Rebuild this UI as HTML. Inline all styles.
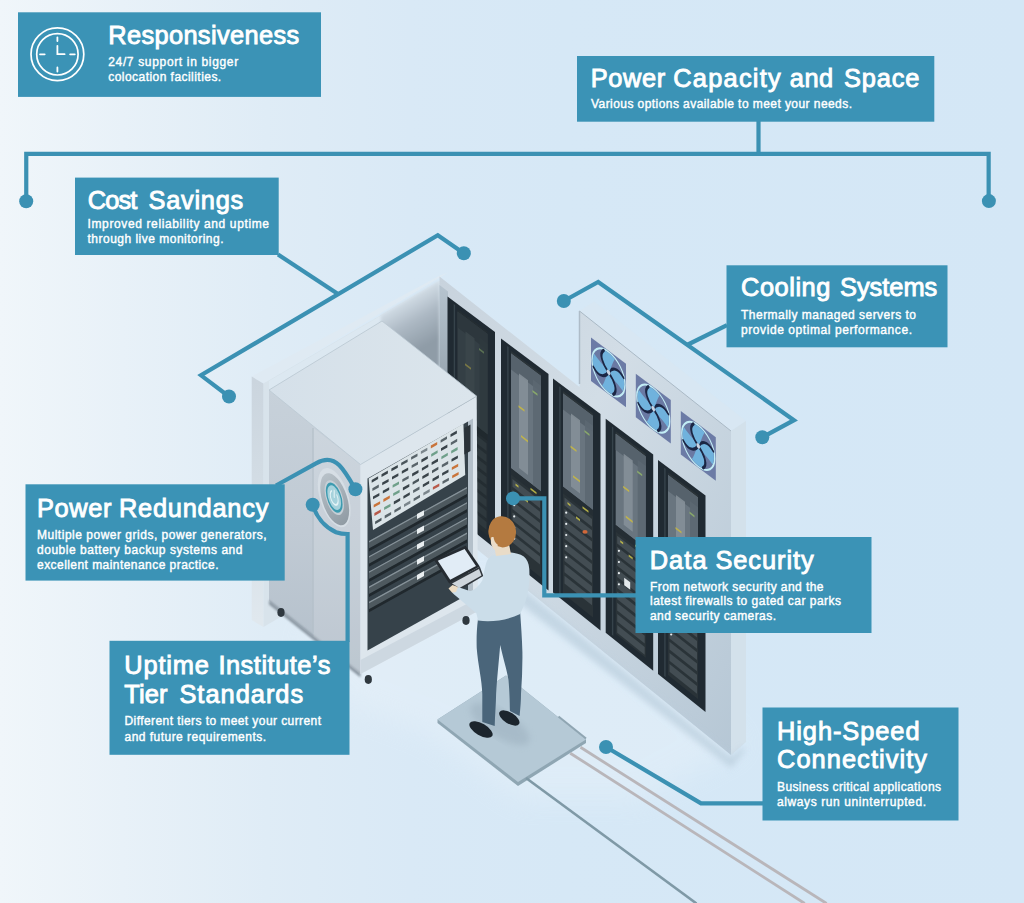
<!DOCTYPE html>
<html lang="en"><head><meta charset="utf-8"><title>Colocation data centre benefits</title>
<style>
html,body{margin:0;padding:0;background:#e3eef6;}
#stage{position:relative;width:1024px;height:903px;overflow:hidden;
background:linear-gradient(90deg,#f0f6fa 0%,#e8f1f8 12%,#dfecf6 26%,#d9e9f6 40%,#d6e8f6 55%,#d4e7f6 100%);}
svg{position:absolute;left:0;top:0;}
text{font-family:"Liberation Sans",sans-serif;fill:#fff;}
.t{font-size:25.4px;stroke:#fff;stroke-width:0.9px;}
.s{font-size:12px;stroke:#fff;stroke-width:0.4px;}
</style></head><body><div id="stage">
<svg width="1024" height="903" viewBox="0 0 1024 903">
<defs>
<linearGradient id="gWallR" x1="0" y1="0" x2="1" y2="1">
<stop offset="0" stop-color="#c8d3dd"/><stop offset="0.4" stop-color="#d2dde6"/><stop offset="1" stop-color="#b6c7d5"/>
</linearGradient>
<linearGradient id="gShadowL" gradientUnits="userSpaceOnUse" x1="390" y1="348" x2="433" y2="284">
<stop offset="0" stop-color="#8c99a4"/><stop offset="0.5" stop-color="#afbcc7"/><stop offset="1" stop-color="#cedae4"/>
</linearGradient>
<linearGradient id="gCabTop" x1="0" y1="0" x2="1" y2="0">
<stop offset="0" stop-color="#d5e0e9"/><stop offset="1" stop-color="#dbe5ec"/>
</linearGradient>
<linearGradient id="gCabLeft" x1="0" y1="0" x2="0" y2="1">
<stop offset="0" stop-color="#c7d1da"/><stop offset="0.5" stop-color="#c0cad4"/><stop offset="1" stop-color="#b3bfca"/>
</linearGradient>
<linearGradient id="gGlass" x1="0" y1="0" x2="0" y2="1">
<stop offset="0" stop-color="#3a4549"/><stop offset="0.5" stop-color="#566165"/><stop offset="1" stop-color="#2a3338"/>
</linearGradient>
<linearGradient id="gGlassD" x1="0" y1="0" x2="0" y2="1">
<stop offset="0" stop-color="#2c363a"/><stop offset="0.5" stop-color="#394347"/><stop offset="1" stop-color="#20282c"/>
</linearGradient>
<linearGradient id="gFloorSh" x1="0" y1="0" x2="0" y2="1">
<stop offset="0" stop-color="#b4c9d9"/><stop offset="1" stop-color="#dbe8f2" stop-opacity="0"/>
</linearGradient>
<filter id="blur3" x="-10%" y="-10%" width="120%" height="120%"><feGaussianBlur stdDeviation="3"/></filter>
<filter id="blur12" x="-20%" y="-20%" width="140%" height="140%"><feGaussianBlur stdDeviation="14"/></filter>
<linearGradient id="gStrip" gradientUnits="userSpaceOnUse" x1="0" y1="285" x2="0" y2="380"><stop offset="0" stop-color="#b6c4cf"/><stop offset="1" stop-color="#98a5b0"/></linearGradient>
<linearGradient id="gBtn" x1="0" y1="0" x2="1" y2="1"><stop offset="0" stop-color="#c0c9d0"/><stop offset="1" stop-color="#88939c"/></linearGradient>
<linearGradient id="gShadowR" gradientUnits="userSpaceOnUse" x1="412" y1="296" x2="437" y2="339"><stop offset="0" stop-color="#d2dde6"/><stop offset="0.45" stop-color="#adb9c4"/><stop offset="1" stop-color="#8f9ca7"/></linearGradient>
<filter id="blur2" x="-10%" y="-10%" width="120%" height="120%"><feGaussianBlur stdDeviation="1.6"/></filter>
<linearGradient id="gEnd" gradientUnits="userSpaceOnUse" x1="0" y1="380" x2="0" y2="620"><stop offset="0" stop-color="#cbd5de"/><stop offset="0.4" stop-color="#d2dce4"/><stop offset="1" stop-color="#e0e8ee"/></linearGradient>
<filter id="blur1" x="-10%" y="-10%" width="120%" height="120%"><feGaussianBlur stdDeviation="0.8"/></filter>
</defs>

<polygon points="300.0,640.0 420.0,560.0 520.0,560.0 745.0,745.0 640.0,800.0 520.0,800.0 430.0,735.0 350.0,705.0" fill="#f3f8fc" opacity="0.28" filter="url(#blur12)"/>
<polygon points="251.7,376.5 439.0,276.0 448.0,272.5 263.4,383.5" fill="#dfeaf3" />
<polygon points="263.4,383.5 439.5,281.0 439.5,525.0 263.4,627.0" fill="#d8e3eb" />
<polygon points="269.0,381.0 382.0,315.0 439.5,281.0 439.5,300.0 269.0,400.0" fill="#dce8f1" />
<polygon points="381.0,315.5 439.5,281.0 439.5,470.0 381.0,470.0" fill="url(#gShadowR)" filter="url(#blur2)"/>
<polygon points="251.7,376.5 263.4,383.5 263.4,627.0 251.7,620.0" fill="url(#gEnd)" />
<polygon points="439.5,276.5 579.5,387.0 579.5,311.0 731.0,431.0 731.0,755.0 439.5,519.0" fill="url(#gWallR)" />
<polygon points="579.5,311.0 731.0,431.0 746.0,421.0 594.0,301.5" fill="#d8e7f3" />
<path d="M579.5,311 L731,431" stroke="#aab9c5" stroke-width="1" fill="none"/>
<polygon points="731.0,431.0 746.0,421.0 746.0,742.0 731.0,755.0" fill="#d3e1eb" />
<polygon points="439.5,285.0 448.0,291.5 448.0,400.0 439.5,400.0" fill="url(#gStrip)" />
<path d="M579.5,311 V384" stroke="#aebcc8" stroke-width="1.5"/>
<polygon points="447.5,296.4 495.0,332.0 495.0,548.4 447.5,510.4" fill="#202a32" />
<polygon points="453.7,304.0 455.1,305.1 455.1,513.5 453.7,512.4" fill="#36434b" />
<polygon points="457.5,308.9 487.5,331.4 487.5,535.4 457.5,511.4" fill="#242d32" />
<polygon points="457.5,311.4 487.5,334.0 487.5,434.4 457.5,411.1" fill="#343f45" />
<polygon points="457.5,311.4 487.5,334.0 487.5,350.2 457.5,327.5" fill="#2d373d" />
<polygon points="465.5,331.4 474.5,338.2 474.5,417.9 465.5,410.9" fill="#3c474b" opacity="0.85"/>
<polygon points="479.5,337.6 487.5,343.7 487.5,434.4 479.5,428.2" fill="#2f3a3e" opacity="0.9"/>
<polygon points="457.5,411.1 487.5,434.4 487.5,440.9 457.5,417.6" fill="#20292e" />
<polygon points="459.0,422.0 486.5,443.3 486.5,451.1 459.0,429.7" fill="#2e383d" />
<polygon points="459.0,433.1 486.5,454.6 486.5,462.3 459.0,440.9" fill="#2e383d" />
<polygon points="459.0,444.3 486.5,465.8 486.5,473.6 459.0,452.0" fill="#2e383d" />
<polygon points="459.0,455.4 486.5,477.0 486.5,484.8 459.0,463.2" fill="#2e383d" />
<polygon points="459.0,466.6 486.5,488.3 486.5,496.0 459.0,474.3" fill="#2e383d" />
<polygon points="459.0,477.8 486.5,499.5 486.5,507.3 459.0,485.5" fill="#2e383d" />
<polygon points="459.0,488.9 486.5,510.7 486.5,518.5 459.0,496.6" fill="#2e383d" />
<polygon points="459.0,500.1 486.5,521.9 486.5,529.7 459.0,507.8" fill="#2e383d" />
<polygon points="479.0,348.0 484.0,351.8 484.0,353.8 479.0,350.0" fill="#8fb36a" opacity="0.45"/>
<polygon points="465.0,363.3 471.0,367.8 471.0,369.8 465.0,365.3" fill="#c9b840" opacity="0.45"/>
<polygon points="501.0,338.4 548.5,374.0 548.5,590.4 501.0,552.4" fill="#202a32" />
<polygon points="507.2,346.0 508.6,347.1 508.6,555.5 507.2,554.4" fill="#36434b" />
<polygon points="511.0,350.9 541.0,373.4 541.0,577.4 511.0,553.4" fill="#2a3338" />
<polygon points="511.0,353.4 541.0,376.0 541.0,491.5 511.0,468.2" fill="#69757f" />
<polygon points="511.0,353.4 541.0,376.0 541.0,392.2 511.0,369.5" fill="#56626c" />
<polygon points="519.0,373.4 528.0,380.2 528.0,474.9 519.0,467.9" fill="#87929a" opacity="0.85"/>
<polygon points="533.0,379.6 541.0,385.7 541.0,491.5 533.0,485.3" fill="#5c6872" opacity="0.9"/>
<polygon points="511.0,468.2 541.0,491.5 541.0,498.0 511.0,474.6" fill="#252e34" />
<polygon points="512.5,479.0 540.0,500.5 540.0,508.2 512.5,486.7" fill="#434d53" />
<polygon points="512.5,490.1 540.0,511.7 540.0,519.5 512.5,497.9" fill="#434d53" />
<circle cx="514.2" cy="494.1" r="1.1" fill="#e8eef0"/>
<polygon points="512.5,501.3 540.0,522.9 540.0,530.7 512.5,509.0" fill="#434d53" />
<circle cx="514.2" cy="505.2" r="1.1" fill="#e8eef0"/>
<polygon points="512.5,512.5 540.0,534.1 540.0,541.9 512.5,520.2" fill="#434d53" />
<circle cx="514.2" cy="516.4" r="1.1" fill="#e8eef0"/>
<polygon points="512.5,523.6 540.0,545.4 540.0,553.2 512.5,531.3" fill="#434d53" />
<circle cx="514.2" cy="527.5" r="1.1" fill="#e8eef0"/>
<polygon points="512.5,534.8 540.0,556.6 540.0,564.4 512.5,542.5" fill="#434d53" />
<circle cx="514.2" cy="538.7" r="1.1" fill="#e8eef0"/>
<polygon points="532.5,390.0 537.5,393.8 537.5,395.8 532.5,392.0" fill="#8fb36a" opacity="0.85"/>
<polygon points="518.5,405.3 524.5,409.8 524.5,411.8 518.5,407.3" fill="#c9b840" opacity="0.85"/>
<polygon points="521.0,435.1 528.0,440.5 528.0,442.5 521.0,437.1" fill="#c9b840" opacity="0.85"/>
<polygon points="530.5,487.7 536.5,492.3 536.5,494.3 530.5,489.7" fill="#c9c24a" opacity="0.85"/>
<polygon points="515.5,483.5 518.5,485.8 518.5,487.8 515.5,485.5" fill="#c9c24a" opacity="0.85"/>
<polygon points="524.0,497.7 528.0,500.7 528.0,502.7 524.0,499.7" fill="#c9c24a" opacity="0.85"/>
<polygon points="553.0,378.5 600.5,414.1 600.5,630.5 553.0,592.5" fill="#202a32" />
<polygon points="559.2,386.2 560.6,387.2 560.6,595.6 559.2,594.5" fill="#36434b" />
<polygon points="563.0,391.0 593.0,413.5 593.0,617.5 563.0,593.5" fill="#2a3338" />
<polygon points="563.0,393.5 593.0,416.1 593.0,510.0 563.0,486.8" fill="#69757f" />
<polygon points="563.0,393.5 593.0,416.1 593.0,432.3 563.0,409.6" fill="#56626c" />
<polygon points="571.0,413.5 580.0,420.3 580.0,493.5 571.0,486.6" fill="#87929a" opacity="0.85"/>
<polygon points="585.0,419.7 593.0,425.8 593.0,510.0 585.0,503.8" fill="#5c6872" opacity="0.9"/>
<polygon points="563.0,486.8 593.0,510.0 593.0,516.5 563.0,493.2" fill="#252e34" />
<polygon points="564.5,497.6 592.0,519.0 592.0,526.7 564.5,505.4" fill="#434d53" />
<polygon points="564.5,508.8 592.0,530.2 592.0,538.0 564.5,516.5" fill="#434d53" />
<circle cx="566.2" cy="512.7" r="1.1" fill="#e8eef0"/>
<polygon points="564.5,519.9 592.0,541.4 592.0,549.2 564.5,527.7" fill="#434d53" />
<circle cx="566.2" cy="523.9" r="1.1" fill="#e8eef0"/>
<polygon points="564.5,531.1 592.0,552.7 592.0,560.4 564.5,538.8" fill="#434d53" />
<circle cx="566.2" cy="535.0" r="1.1" fill="#e8eef0"/>
<polygon points="564.5,542.3 592.0,563.9 592.0,571.7 564.5,550.0" fill="#434d53" />
<circle cx="566.2" cy="546.2" r="1.1" fill="#e8eef0"/>
<polygon points="564.5,553.4 592.0,575.1 592.0,582.9 564.5,561.1" fill="#434d53" />
<circle cx="566.2" cy="557.3" r="1.1" fill="#e8eef0"/>
<polygon points="564.5,564.6 592.0,586.3 592.0,594.1 564.5,572.3" fill="#434d53" />
<polygon points="564.5,575.7 592.0,597.6 592.0,605.3 564.5,583.5" fill="#434d53" />
<polygon points="584.5,430.1 589.5,433.9 589.5,435.9 584.5,432.1" fill="#8fb36a" opacity="0.85"/>
<polygon points="570.5,445.4 576.5,449.9 576.5,451.9 570.5,447.4" fill="#c9b840" opacity="0.85"/>
<polygon points="573.0,475.2 580.0,480.6 580.0,482.6 573.0,477.2" fill="#c9b840" opacity="0.85"/>
<polygon points="582.5,506.3 588.5,510.8 588.5,512.8 582.5,508.3" fill="#c9c24a" opacity="0.85"/>
<polygon points="567.5,502.1 570.5,504.4 570.5,506.4 567.5,504.1" fill="#c9c24a" opacity="0.85"/>
<polygon points="576.0,516.3 580.0,519.3 580.0,521.3 576.0,518.3" fill="#c9c24a" opacity="0.85"/>
<ellipse cx="585.0" cy="531.9" rx="2.6" ry="1.8" fill="#d0683a"/>
<polygon points="605.7,418.8 653.2,454.4 653.2,670.8 605.7,632.8" fill="#202a32" />
<polygon points="611.9,426.5 613.3,427.5 613.3,635.9 611.9,634.8" fill="#36434b" />
<polygon points="615.7,431.3 645.7,453.8 645.7,657.8 615.7,633.8" fill="#2a3338" />
<polygon points="615.7,433.8 645.7,456.4 645.7,548.2 615.7,525.0" fill="#69757f" />
<polygon points="615.7,433.8 645.7,456.4 645.7,472.6 615.7,449.9" fill="#56626c" />
<polygon points="623.7,453.8 632.7,460.6 632.7,531.7 623.7,524.7" fill="#87929a" opacity="0.85"/>
<polygon points="637.7,460.0 645.7,466.1 645.7,548.2 637.7,542.0" fill="#5c6872" opacity="0.9"/>
<polygon points="615.7,525.0 645.7,548.2 645.7,554.6 615.7,531.4" fill="#252e34" />
<polygon points="617.2,535.8 644.7,557.1 644.7,564.9 617.2,543.5" fill="#434d53" />
<polygon points="617.2,546.9 644.7,568.3 644.7,576.1 617.2,554.7" fill="#434d53" />
<circle cx="618.9" cy="550.8" r="1.1" fill="#e8eef0"/>
<polygon points="617.2,558.1 644.7,579.6 644.7,587.3 617.2,565.8" fill="#434d53" />
<circle cx="618.9" cy="562.0" r="1.1" fill="#e8eef0"/>
<polygon points="617.2,569.3 644.7,590.8 644.7,598.6 617.2,577.0" fill="#434d53" />
<circle cx="618.9" cy="573.2" r="1.1" fill="#e8eef0"/>
<polygon points="617.2,580.4 644.7,602.0 644.7,609.8 617.2,588.1" fill="#434d53" />
<circle cx="618.9" cy="584.3" r="1.1" fill="#e8eef0"/>
<polygon points="617.2,591.6 644.7,613.3 644.7,621.0 617.2,599.3" fill="#434d53" />
<circle cx="618.9" cy="595.5" r="1.1" fill="#e8eef0"/>
<polygon points="617.2,602.7 644.7,624.5 644.7,632.3 617.2,610.5" fill="#434d53" />
<polygon points="617.2,613.9 644.7,635.7 644.7,643.5 617.2,621.6" fill="#434d53" />
<polygon points="617.2,625.0 644.7,646.9 644.7,654.7 617.2,632.8" fill="#434d53" />
<polygon points="637.2,470.4 642.2,474.2 642.2,476.2 637.2,472.4" fill="#8fb36a" opacity="0.85"/>
<polygon points="623.2,485.7 629.2,490.2 629.2,492.2 623.2,487.7" fill="#c9b840" opacity="0.85"/>
<polygon points="625.7,515.5 632.7,520.9 632.7,522.9 625.7,517.5" fill="#c9b840" opacity="0.85"/>
<polygon points="635.2,544.4 641.2,549.0 641.2,551.0 635.2,546.4" fill="#c9c24a" opacity="0.85"/>
<polygon points="620.2,540.3 623.2,542.6 623.2,544.6 620.2,542.3" fill="#c9c24a" opacity="0.85"/>
<polygon points="628.7,554.4 632.7,557.5 632.7,559.5 628.7,556.4" fill="#c9c24a" opacity="0.85"/>
<polygon points="624.2,577.7 630.2,582.2 630.2,589.7 624.2,585.2" fill="#e4e9ec" />
<polygon points="658.0,460.0 705.5,495.6 705.5,712.0 658.0,674.0" fill="#202a32" />
<polygon points="664.2,467.7 665.6,468.7 665.6,677.1 664.2,676.0" fill="#36434b" />
<polygon points="668.0,472.5 698.0,495.0 698.0,699.0 668.0,675.0" fill="#2a3338" />
<polygon points="668.0,475.0 698.0,497.6 698.0,587.2 668.0,564.0" fill="#69757f" />
<polygon points="668.0,475.0 698.0,497.6 698.0,513.8 668.0,491.1" fill="#56626c" />
<polygon points="676.0,495.0 685.0,501.8 685.0,570.7 676.0,563.8" fill="#87929a" opacity="0.85"/>
<polygon points="690.0,501.2 698.0,507.3 698.0,587.2 690.0,581.0" fill="#5c6872" opacity="0.9"/>
<polygon points="668.0,564.0 698.0,587.2 698.0,593.7 668.0,570.5" fill="#252e34" />
<polygon points="669.5,574.8 697.0,596.1 697.0,603.9 669.5,582.6" fill="#434d53" />
<polygon points="669.5,586.0 697.0,607.4 697.0,615.1 669.5,593.7" fill="#434d53" />
<circle cx="671.2" cy="589.9" r="1.1" fill="#e8eef0"/>
<polygon points="669.5,597.2 697.0,618.6 697.0,626.4 669.5,604.9" fill="#434d53" />
<circle cx="671.2" cy="601.1" r="1.1" fill="#e8eef0"/>
<polygon points="669.5,608.3 697.0,629.8 697.0,637.6 669.5,616.0" fill="#434d53" />
<circle cx="671.2" cy="612.2" r="1.1" fill="#e8eef0"/>
<polygon points="669.5,619.5 697.0,641.1 697.0,648.8 669.5,627.2" fill="#434d53" />
<circle cx="671.2" cy="623.4" r="1.1" fill="#e8eef0"/>
<polygon points="669.5,630.6 697.0,652.3 697.0,660.1 669.5,638.4" fill="#434d53" />
<circle cx="671.2" cy="634.5" r="1.1" fill="#e8eef0"/>
<polygon points="669.5,641.8 697.0,663.5 697.0,671.3 669.5,649.5" fill="#434d53" />
<polygon points="669.5,652.9 697.0,674.8 697.0,682.5 669.5,660.7" fill="#434d53" />
<polygon points="669.5,664.1 697.0,686.0 697.0,693.8 669.5,671.8" fill="#434d53" />
<polygon points="689.5,511.6 694.5,515.4 694.5,517.4 689.5,513.6" fill="#8fb36a" opacity="0.85"/>
<polygon points="675.5,526.9 681.5,531.4 681.5,533.4 675.5,528.9" fill="#c9b840" opacity="0.85"/>
<polygon points="678.0,556.7 685.0,562.1 685.0,564.1 678.0,558.7" fill="#c9b840" opacity="0.85"/>
<polygon points="687.5,583.4 693.5,588.0 693.5,590.0 687.5,585.4" fill="#c9c24a" opacity="0.85"/>
<polygon points="672.5,579.3 675.5,581.6 675.5,583.6 672.5,581.3" fill="#c9c24a" opacity="0.85"/>
<polygon points="681.0,593.5 685.0,596.5 685.0,598.5 681.0,595.5" fill="#c9c24a" opacity="0.85"/>
<polygon points="591.0,337.5 626.0,363.8 626.0,407.2 591.0,381.0" fill="#6c7ba6" />
<g transform="matrix(0.8 0.6 0 1 608.50 372.38)">
<circle r="20.6" fill="#6a79a3" stroke="#c2ecf5" stroke-width="1.7"/>
<path transform="rotate(15)" d="M0,0 C2,-8 8,-15 16.5,-10.5 A19.6 19.6 0 0 1 19.3,3 C12,1 6,2 0,0Z" fill="#70b2dd"/>
<path transform="rotate(15)" d="M0,0 C2,-8 8,-15 16.5,-10.5" fill="none" stroke="#1b2644" stroke-width="2.6" stroke-linecap="round"/>
<path transform="rotate(105)" d="M0,0 C2,-8 8,-15 16.5,-10.5 A19.6 19.6 0 0 1 19.3,3 C12,1 6,2 0,0Z" fill="#70b2dd"/>
<path transform="rotate(105)" d="M0,0 C2,-8 8,-15 16.5,-10.5" fill="none" stroke="#1b2644" stroke-width="2.6" stroke-linecap="round"/>
<path transform="rotate(195)" d="M0,0 C2,-8 8,-15 16.5,-10.5 A19.6 19.6 0 0 1 19.3,3 C12,1 6,2 0,0Z" fill="#70b2dd"/>
<path transform="rotate(195)" d="M0,0 C2,-8 8,-15 16.5,-10.5" fill="none" stroke="#1b2644" stroke-width="2.6" stroke-linecap="round"/>
<path transform="rotate(285)" d="M0,0 C2,-8 8,-15 16.5,-10.5 A19.6 19.6 0 0 1 19.3,3 C12,1 6,2 0,0Z" fill="#70b2dd"/>
<path transform="rotate(285)" d="M0,0 C2,-8 8,-15 16.5,-10.5" fill="none" stroke="#1b2644" stroke-width="2.6" stroke-linecap="round"/>
<circle r="2.3" fill="#c9d3e2"/>
</g>
<polygon points="635.8,373.8 670.8,400.0 670.8,443.5 635.8,417.2" fill="#6c7ba6" />
<g transform="matrix(0.8 0.6 0 1 653.25 408.62)">
<circle r="20.6" fill="#6a79a3" stroke="#c2ecf5" stroke-width="1.7"/>
<path transform="rotate(15)" d="M0,0 C2,-8 8,-15 16.5,-10.5 A19.6 19.6 0 0 1 19.3,3 C12,1 6,2 0,0Z" fill="#70b2dd"/>
<path transform="rotate(15)" d="M0,0 C2,-8 8,-15 16.5,-10.5" fill="none" stroke="#1b2644" stroke-width="2.6" stroke-linecap="round"/>
<path transform="rotate(105)" d="M0,0 C2,-8 8,-15 16.5,-10.5 A19.6 19.6 0 0 1 19.3,3 C12,1 6,2 0,0Z" fill="#70b2dd"/>
<path transform="rotate(105)" d="M0,0 C2,-8 8,-15 16.5,-10.5" fill="none" stroke="#1b2644" stroke-width="2.6" stroke-linecap="round"/>
<path transform="rotate(195)" d="M0,0 C2,-8 8,-15 16.5,-10.5 A19.6 19.6 0 0 1 19.3,3 C12,1 6,2 0,0Z" fill="#70b2dd"/>
<path transform="rotate(195)" d="M0,0 C2,-8 8,-15 16.5,-10.5" fill="none" stroke="#1b2644" stroke-width="2.6" stroke-linecap="round"/>
<path transform="rotate(285)" d="M0,0 C2,-8 8,-15 16.5,-10.5 A19.6 19.6 0 0 1 19.3,3 C12,1 6,2 0,0Z" fill="#70b2dd"/>
<path transform="rotate(285)" d="M0,0 C2,-8 8,-15 16.5,-10.5" fill="none" stroke="#1b2644" stroke-width="2.6" stroke-linecap="round"/>
<circle r="2.3" fill="#c9d3e2"/>
</g>
<polygon points="680.8,411.0 715.8,437.2 715.8,480.8 680.8,454.5" fill="#6c7ba6" />
<g transform="matrix(0.8 0.6 0 1 698.25 445.88)">
<circle r="20.6" fill="#6a79a3" stroke="#c2ecf5" stroke-width="1.7"/>
<path transform="rotate(15)" d="M0,0 C2,-8 8,-15 16.5,-10.5 A19.6 19.6 0 0 1 19.3,3 C12,1 6,2 0,0Z" fill="#70b2dd"/>
<path transform="rotate(15)" d="M0,0 C2,-8 8,-15 16.5,-10.5" fill="none" stroke="#1b2644" stroke-width="2.6" stroke-linecap="round"/>
<path transform="rotate(105)" d="M0,0 C2,-8 8,-15 16.5,-10.5 A19.6 19.6 0 0 1 19.3,3 C12,1 6,2 0,0Z" fill="#70b2dd"/>
<path transform="rotate(105)" d="M0,0 C2,-8 8,-15 16.5,-10.5" fill="none" stroke="#1b2644" stroke-width="2.6" stroke-linecap="round"/>
<path transform="rotate(195)" d="M0,0 C2,-8 8,-15 16.5,-10.5 A19.6 19.6 0 0 1 19.3,3 C12,1 6,2 0,0Z" fill="#70b2dd"/>
<path transform="rotate(195)" d="M0,0 C2,-8 8,-15 16.5,-10.5" fill="none" stroke="#1b2644" stroke-width="2.6" stroke-linecap="round"/>
<path transform="rotate(285)" d="M0,0 C2,-8 8,-15 16.5,-10.5 A19.6 19.6 0 0 1 19.3,3 C12,1 6,2 0,0Z" fill="#70b2dd"/>
<path transform="rotate(285)" d="M0,0 C2,-8 8,-15 16.5,-10.5" fill="none" stroke="#1b2644" stroke-width="2.6" stroke-linecap="round"/>
<circle r="2.3" fill="#c9d3e2"/>
</g>
<polygon points="520.0,586.0 731.0,757.0 744.0,746.0 744.0,752.0 731.0,768.0 520.0,604.0" fill="#b9cddc" opacity="0.7" filter="url(#blur3)"/>
<polygon points="269.0,390.0 360.5,464.5 360.5,674.0 269.0,601.0" fill="url(#gCabLeft)" />
<polygon points="269.0,600.0 360.5,673.0 360.5,677.5 269.0,604.5" fill="#8a96a1" filter="url(#blur1)"/>
<polygon points="313.5,428.0 360.5,464.5 360.5,674.0 313.5,636.5" fill="#ffffff" opacity="0.13"/>
<line x1="313" y1="428" x2="313" y2="633" stroke="#b4c0c9" stroke-width="1.2"/>
<polygon points="360.5,464.5 476.7,396.2 478.0,611.0 360.5,674.0" fill="#dde6ed" />
<polygon points="360.5,660.0 478.0,598.0 478.0,611.0 360.5,674.0" fill="#cdd8e1" />
<polygon points="269.0,390.0 382.0,321.0 476.7,396.2 360.5,464.5" fill="url(#gCabTop)" stroke="#b9c6d0" stroke-width="0.8"/>
<polygon points="367.5,478.5 468.0,421.5 468.0,594.5 367.5,650.5" fill="#36424a" />
<polygon points="468.0,421.5 473.0,418.6 473.0,597.0 468.0,594.5" fill="#b4c0ca" />
<polygon points="368.6,478.6 463.4,423.7 465.2,475.0 373.0,530.0" fill="#dbe4e8" />
<polygon points="371.7,479.9 378.1,476.3 378.1,479.1 371.7,482.7" fill="#3a444a" />
<polygon points="372.4,488.2 378.8,484.6 378.8,487.4 372.4,491.0" fill="#59646a" />
<polygon points="373.0,496.5 379.4,492.9 379.4,495.7 373.0,499.3" fill="#3a444a" />
<polygon points="373.7,504.8 380.1,501.2 380.1,504.0 373.7,507.6" fill="#c9743a" />
<polygon points="374.4,513.1 380.8,509.5 380.8,512.3 374.4,515.9" fill="#b85a4a" />
<polygon points="375.1,521.4 381.5,517.8 381.5,520.6 375.1,524.2" fill="#4a555b" />
<polygon points="381.5,474.2 387.9,470.6 387.9,473.4 381.5,477.0" fill="#3a444a" />
<polygon points="382.2,482.5 388.6,478.9 388.6,481.7 382.2,485.3" fill="#3a444a" />
<polygon points="382.8,490.8 389.2,487.2 389.2,490.0 382.8,493.6" fill="#3a444a" />
<polygon points="383.4,499.1 389.8,495.5 389.8,498.3 383.4,501.9" fill="#c9743a" />
<polygon points="384.1,507.3 390.5,503.7 390.5,506.5 384.1,510.1" fill="#6fa08a" />
<polygon points="384.7,515.6 391.1,512.0 391.1,514.8 384.7,518.4" fill="#59646a" />
<polygon points="391.4,468.5 397.8,464.9 397.8,467.7 391.4,471.3" fill="#3a444a" />
<polygon points="392.0,476.8 398.4,473.2 398.4,476.0 392.0,479.6" fill="#3a444a" />
<polygon points="392.6,485.0 399.0,481.4 399.0,484.2 392.6,487.8" fill="#6fa08a" />
<polygon points="393.2,493.3 399.6,489.7 399.6,492.5 393.2,496.1" fill="#6fa08a" />
<polygon points="393.8,501.6 400.2,498.0 400.2,500.8 393.8,504.4" fill="#3a444a" />
<polygon points="394.4,509.9 400.8,506.3 400.8,509.1 394.4,512.7" fill="#59646a" />
<polygon points="401.2,462.8 407.6,459.2 407.6,462.0 401.2,465.6" fill="#4a555b" />
<polygon points="401.8,471.0 408.2,467.4 408.2,470.2 401.8,473.8" fill="#3a444a" />
<polygon points="402.3,479.3 408.7,475.7 408.7,478.5 402.3,482.1" fill="#59646a" />
<polygon points="402.9,487.6 409.3,484.0 409.3,486.8 402.9,490.4" fill="#3a444a" />
<polygon points="403.4,495.9 409.8,492.3 409.8,495.1 403.4,498.7" fill="#3a444a" />
<polygon points="404.0,504.2 410.4,500.6 410.4,503.4 404.0,507.0" fill="#7b868c" />
<polygon points="411.1,457.0 417.5,453.4 417.5,456.2 411.1,459.8" fill="#59646a" />
<polygon points="411.6,465.3 418.0,461.7 418.0,464.5 411.6,468.1" fill="#59646a" />
<polygon points="412.1,473.6 418.5,470.0 418.5,472.8 412.1,476.4" fill="#3a444a" />
<polygon points="412.6,481.9 419.0,478.3 419.0,481.1 412.6,484.7" fill="#4a555b" />
<polygon points="413.1,490.2 419.5,486.6 419.5,489.4 413.1,493.0" fill="#59646a" />
<polygon points="413.6,498.4 420.0,494.8 420.0,497.6 413.6,501.2" fill="#59646a" />
<polygon points="420.9,451.3 427.3,447.7 427.3,450.5 420.9,454.1" fill="#7b868c" />
<polygon points="421.4,459.6 427.8,456.0 427.8,458.8 421.4,462.4" fill="#3a444a" />
<polygon points="421.9,467.9 428.3,464.3 428.3,467.1 421.9,470.7" fill="#3a444a" />
<polygon points="422.3,476.2 428.7,472.6 428.7,475.4 422.3,479.0" fill="#3a444a" />
<polygon points="422.8,484.4 429.2,480.8 429.2,483.6 422.8,487.2" fill="#3a444a" />
<polygon points="423.3,492.7 429.7,489.1 429.7,491.9 423.3,495.5" fill="#7b868c" />
<polygon points="430.8,445.6 437.2,442.0 437.2,444.8 430.8,448.4" fill="#c9743a" />
<polygon points="431.2,453.9 437.6,450.3 437.6,453.1 431.2,456.7" fill="#6fa08a" />
<polygon points="431.6,462.2 438.0,458.6 438.0,461.4 431.6,465.0" fill="#3a444a" />
<polygon points="432.0,470.4 438.4,466.8 438.4,469.6 432.0,473.2" fill="#4a555b" />
<polygon points="432.5,478.7 438.9,475.1 438.9,477.9 432.5,481.5" fill="#3a444a" />
<polygon points="432.9,487.0 439.3,483.4 439.3,486.2 432.9,489.8" fill="#b85a4a" />
<polygon points="440.6,439.9 447.0,436.3 447.0,439.1 440.6,442.7" fill="#59646a" />
<polygon points="441.0,448.2 447.4,444.6 447.4,447.4 441.0,451.0" fill="#3a444a" />
<polygon points="441.4,456.4 447.8,452.8 447.8,455.6 441.4,459.2" fill="#6fa08a" />
<polygon points="441.8,464.7 448.2,461.1 448.2,463.9 441.8,467.5" fill="#59646a" />
<polygon points="442.1,473.0 448.5,469.4 448.5,472.2 442.1,475.8" fill="#3a444a" />
<polygon points="442.5,481.3 448.9,477.7 448.9,480.5 442.5,484.1" fill="#59646a" />
<polygon points="450.5,434.2 456.9,430.6 456.9,433.4 450.5,437.0" fill="#3a444a" />
<polygon points="450.8,442.4 457.2,438.8 457.2,441.6 450.8,445.2" fill="#59646a" />
<polygon points="451.2,450.7 457.6,447.1 457.6,449.9 451.2,453.5" fill="#6fa08a" />
<polygon points="451.5,459.0 457.9,455.4 457.9,458.2 451.5,461.8" fill="#3a444a" />
<polygon points="451.8,467.3 458.2,463.7 458.2,466.5 451.8,470.1" fill="#c9743a" />
<polygon points="452.2,475.5 458.6,471.9 458.6,474.7 452.2,478.3" fill="#c9743a" />
<polygon points="464.3,428.0 470.5,424.5 470.5,451.0 464.3,454.5" fill="#2a3238" />
<polygon points="369.0,541.0 467.0,487.0 467.0,494.0 369.0,548.5" fill="#4e595f" />
<polygon points="369.0,541.0 467.0,487.0 467.0,488.4 369.0,542.4" fill="#87939a" />
<polygon points="369.0,548.5 467.0,494.0 467.0,497.0 369.0,551.5" fill="#20282d" />
<polygon points="417.0,514.1 424.0,510.3 424.0,515.3 417.0,519.1" fill="#e9eef0" />
<polygon points="369.0,556.2 467.0,502.2 467.0,509.2 369.0,563.7" fill="#4e595f" />
<polygon points="369.0,556.2 467.0,502.2 467.0,503.6 369.0,557.6" fill="#87939a" />
<polygon points="369.0,563.7 467.0,509.2 467.0,512.2 369.0,566.7" fill="#20282d" />
<polygon points="417.0,529.3 424.0,525.5 424.0,530.5 417.0,534.3" fill="#e9eef0" />
<polygon points="369.0,571.4 467.0,517.4 467.0,524.4 369.0,578.9" fill="#4e595f" />
<polygon points="369.0,571.4 467.0,517.4 467.0,518.8 369.0,572.8" fill="#87939a" />
<polygon points="369.0,578.9 467.0,524.4 467.0,527.4 369.0,581.9" fill="#20282d" />
<polygon points="417.0,544.5 424.0,540.7 424.0,545.7 417.0,549.5" fill="#e9eef0" />
<polygon points="369.0,586.6 467.0,532.6 467.0,539.6 369.0,594.1" fill="#4e595f" />
<polygon points="369.0,586.6 467.0,532.6 467.0,534.0 369.0,588.0" fill="#87939a" />
<polygon points="369.0,594.1 467.0,539.6 467.0,542.6 369.0,597.1" fill="#20282d" />
<polygon points="417.0,559.7 424.0,555.9 424.0,560.9 417.0,564.7" fill="#e9eef0" />
<polygon points="369.0,601.8 467.0,547.8 467.0,554.8 369.0,609.3" fill="#4e595f" />
<polygon points="369.0,601.8 467.0,547.8 467.0,549.2 369.0,603.2" fill="#87939a" />
<polygon points="369.0,609.3 467.0,554.8 467.0,557.8 369.0,612.3" fill="#20282d" />
<polygon points="417.0,574.9 424.0,571.1 424.0,576.1 417.0,579.9" fill="#e9eef0" />
<ellipse cx="281.0" cy="612.5" rx="3.6" ry="4.4" fill="#2f383f"/>
<ellipse cx="368.3" cy="679.5" rx="3.6" ry="4.4" fill="#2f383f"/>
<ellipse cx="466.0" cy="620.5" rx="3.6" ry="4.4" fill="#2f383f"/>
<g transform="matrix(0.62 0.5 0 1 334.2 497.6)">
<circle r="26.5" fill="#d6dee5"/><circle r="23.3" cx="0.8" cy="1.2" fill="url(#gBtn)"/><circle r="15.6" fill="#c6cfd6"/>
<circle r="12.3" fill="#a6d2dc" stroke="#3d9bb0" stroke-width="2.5"/>
<path d="M0,-7 V-0.5 M-4.3,-4.6 A6.4 6.4 0 1 0 4.3,-4.6" fill="none" stroke="#e3f3f6" stroke-width="1.7" stroke-linecap="round"/>
</g>
<polygon points="437.5,719.5 506.0,675.5 586.0,739.5 586.0,743.0 518.0,786.0 437.5,723.0" fill="#8fa6b3" />
<polygon points="437.5,719.5 506.0,675.5 586.0,739.5 518.0,782.0" fill="#b5c9d6" />
<ellipse cx="500" cy="724" rx="34" ry="13" transform="rotate(32 500 724)" fill="#9db1bf" opacity="0.55" filter="url(#blur3)"/>
<path d="M558.5,716.5 L586,738.5" stroke="#8fa5b2" stroke-width="2" fill="none"/>
<path d="M580.5,747.3 L826.6,903.5" stroke="#b9b6ba" stroke-width="2.8" fill="none"/>
<path d="M570.3,753.2 L804.7,903.5" stroke="#b9b6ba" stroke-width="2.8" fill="none"/>
<path d="M526,778 L696.5,903.5" stroke="#7f99a6" stroke-width="2.6" fill="none"/>
<path d="M478,619 C476.5,630 476.5,640 476.7,648 C478,665 482,680 482.3,694 L482.3,722 L494.7,726 C495,714 496,704 496.1,694 C497,678 499,660 500.2,645 C503,658 507,670 508.5,680 C509.5,692 509.8,700 509.9,711 L519.6,716 C520.5,707 521,700 521,694 C522,680 522.6,666 522.4,652 C522,638 521,625 520.2,613Z" fill="#4a657a"/>
<ellipse cx="481" cy="729.5" rx="13" ry="6" transform="rotate(30 481 729.5)" fill="#1c252d"/>
<ellipse cx="509.3" cy="718" rx="11.5" ry="5.5" transform="rotate(32 509.3 718)" fill="#1c252d"/>
<polygon points="433.8,559.5 465.7,545.7 479.8,566.4 449.0,583.2" fill="#262c32" />
<polygon points="437.8,560.8 464.6,549.0 476.0,566.0 450.2,579.8" fill="#e1ecf6" />
<polygon points="449.0,583.2 479.8,566.4 483.3,576.0 459.0,590.5" fill="#30363c" />
<polygon points="452.0,583.6 479.0,569.0 481.5,575.4 459.4,588.0" fill="#cfd6dc" />
<path d="M494.7,555 C490,556 487.5,559 486.2,563 C484.5,569 483.5,575 482.3,580.5 C479,586 474,590.5 469.8,591 L458,587 L452,592.5 C458,598 468,606 476.5,613.5 C477,616 477.5,618 478,620.5 C492,622.5 508,620 520.2,614 C524,606 527,598 528,591 C529.6,584 529.6,576 529.3,569 C528.8,563 527,559 523.8,556.5 C520,554 515,553 511.3,552.6Z" fill="#cbdde9"/>
<path d="M458,587 L452.5,585 L448.5,588.5 L452,592.6 L456,592Z" fill="#ecdcc4"/>
<path d="M494,545 L496,556 L511,554 L509,544Z" fill="#e9dcc8"/>
<ellipse cx="502.2" cy="531.8" rx="13.8" ry="15.6" transform="rotate(-8 502.2 531.8)" fill="#b47a40"/>
<path d="M491.5,537 C490,541 491,547 495,550 L498,545 C495,543 494,540 493.5,537Z" fill="#eadcc8"/>
<g fill="none" stroke="#3b91b3" stroke-width="4.2" stroke-linejoin="miter">
<path d="M26.25,200 V153.85 H988.65 V200"/>
<path d="M758.5,121 V154"/>
<path d="M278,254.5 L338,294"/>
<path d="M229,396.5 L201,375.3 L437.8,235.2 L463.8,253.3"/>
<path d="M563.8,301 L598.2,282 L794,420.2 L762.3,437.3"/>
<path d="M687,345 L727,325.2"/>
<path d="M276,485.5 L316,463.3 C325,458.3 333,459 339.3,465.3 C345,471 350,480 355.4,489.3"/>
<path d="M312.7,504.8 C316,516 324,527 336,532.2 C340,533.6 344,534 347.6,534 V642"/>
<path d="M513,498.3 H544.3 V595.3 H637"/>
<path d="M606,747 L701,803.3 H763"/>
</g>
<circle cx="26.2" cy="201.2" r="7" fill="#3b91b3"/>
<circle cx="988.9" cy="201.1" r="7" fill="#3b91b3"/>
<circle cx="229.0" cy="396.5" r="7" fill="#3b91b3"/>
<circle cx="463.8" cy="253.3" r="7" fill="#3b91b3"/>
<circle cx="563.8" cy="301.0" r="7" fill="#3b91b3"/>
<circle cx="762.3" cy="437.3" r="7" fill="#3b91b3"/>
<circle cx="355.4" cy="489.3" r="7" fill="#3b91b3"/>
<circle cx="312.7" cy="504.8" r="7" fill="#3b91b3"/>
<circle cx="513.0" cy="498.4" r="7" fill="#3b91b3"/>
<circle cx="606.0" cy="747.0" r="7" fill="#3b91b3"/>
<rect x="18" y="12.3" width="303" height="84.6" fill="#3b93b6"/>
<rect x="577" y="56" width="357.3" height="65.7" fill="#3b93b6"/>
<rect x="75" y="177.6" width="203.7" height="77.4" fill="#3b93b6"/>
<rect x="726.5" y="265.3" width="221" height="82" fill="#3b93b6"/>
<rect x="25.5" y="484.3" width="259.2" height="96.3" fill="#3b93b6"/>
<rect x="109.5" y="640.8" width="240" height="114" fill="#3b93b6"/>
<rect x="635.5" y="537" width="236" height="96" fill="#3b93b6"/>
<rect x="762.5" y="707.5" width="196" height="113" fill="#3b93b6"/>
<g fill="none" stroke="#fff" stroke-linecap="round">
<circle cx="57.4" cy="54.3" r="26.4" stroke-width="1.7"/><circle cx="57.4" cy="54.3" r="20.7" stroke-width="1.7"/>
<path d="M57.4,45.8 V54.2 H64.6" stroke-width="1.8"/>
<path d="M57.4,37.3 V41 M57.4,67.4 V71.5 M40,54.3 H44.7 M70.1,54.3 H74.8" stroke-width="1.8"/>
</g>
<text class="t" y="43.9"><tspan x="108.2" textLength="191" lengthAdjust="spacing">Responsiveness</tspan></text>
<text class="s" y="66.1"><tspan x="108.2" textLength="130" lengthAdjust="spacing">24/7 support in bigger</tspan></text>
<text class="s" y="81"><tspan x="108.2" textLength="113" lengthAdjust="spacing">colocation facilities.</tspan></text>
<text class="t" y="86.9"><tspan x="590.8" textLength="74.3" lengthAdjust="spacing">Power</tspan> <tspan x="673.3" textLength="107.4" lengthAdjust="spacing">Capacity</tspan> <tspan x="789.7" textLength="43.5" lengthAdjust="spacing">and</tspan> <tspan x="844.1" textLength="75.2" lengthAdjust="spacing">Space</tspan></text>
<text class="s" y="107.5"><tspan x="591" textLength="261" lengthAdjust="spacing">Various options available to meet your needs.</tspan></text>
<text class="t" y="208.5"><tspan x="87.7" textLength="49.6" lengthAdjust="spacing">Cost</tspan> <tspan x="148.6" textLength="94.6" lengthAdjust="spacing">Savings</tspan></text>
<text class="s" y="228"><tspan x="87.5" textLength="181.5" lengthAdjust="spacing">Improved reliability and uptime</tspan></text>
<text class="s" y="243"><tspan x="87.5" textLength="136" lengthAdjust="spacing">through live monitoring.</tspan></text>
<text class="t" y="296.2"><tspan x="741" textLength="89.4" lengthAdjust="spacing">Cooling</tspan> <tspan x="840" textLength="97.3" lengthAdjust="spacing">Systems</tspan></text>
<text class="s" y="319.3"><tspan x="741" textLength="175" lengthAdjust="spacing">Thermally managed servers to</tspan></text>
<text class="s" y="334.3"><tspan x="741" textLength="171" lengthAdjust="spacing">provide optimal performance.</tspan></text>
<text class="t" y="516.6"><tspan x="36.9" textLength="74.5" lengthAdjust="spacing">Power</tspan> <tspan x="119" textLength="149.4" lengthAdjust="spacing">Redundancy</tspan></text>
<text class="s" y="539.4"><tspan x="37" textLength="229.5" lengthAdjust="spacing">Multiple power grids, power generators,</tspan></text>
<text class="s" y="554.3"><tspan x="37" textLength="205.5" lengthAdjust="spacing">double battery backup systems and</tspan></text>
<text class="s" y="569.2"><tspan x="37" textLength="181.5" lengthAdjust="spacing">excellent maintenance practice.</tspan></text>
<text class="t" y="674.3"><tspan x="124.3" textLength="84.6" lengthAdjust="spacing">Uptime</tspan> <tspan x="218.4" textLength="112" lengthAdjust="spacing">Institute’s</tspan></text>
<text class="t" y="702.8"><tspan x="124.3" textLength="43.2" lengthAdjust="spacing">Tier</tspan> <tspan x="179.4" textLength="123.8" lengthAdjust="spacing">Standards</tspan></text>
<text class="s" y="725.2"><tspan x="124.5" textLength="196.5" lengthAdjust="spacing">Different tiers to meet your current</tspan></text>
<text class="s" y="740.5"><tspan x="124.5" textLength="141.5" lengthAdjust="spacing">and future requirements.</tspan></text>
<text class="t" y="569.3"><tspan x="649.7" textLength="56.8" lengthAdjust="spacing">Data</tspan> <tspan x="715.4" textLength="98.4" lengthAdjust="spacing">Security</tspan></text>
<text class="s" y="590.7"><tspan x="650" textLength="173.5" lengthAdjust="spacing">From network security and the</tspan></text>
<text class="s" y="605.2"><tspan x="650" textLength="191" lengthAdjust="spacing">latest firewalls to gated car parks</tspan></text>
<text class="s" y="620"><tspan x="650" textLength="126" lengthAdjust="spacing">and security cameras.</tspan></text>
<text class="t" y="740.1"><tspan x="777" textLength="142.5" lengthAdjust="spacing">High-Speed</tspan></text>
<text class="t" y="768.3"><tspan x="777" textLength="150" lengthAdjust="spacing">Connectivity</tspan></text>
<text class="s" y="790.6"><tspan x="777" textLength="164" lengthAdjust="spacing">Business critical applications</tspan></text>
<text class="s" y="805.9"><tspan x="777" textLength="149" lengthAdjust="spacing">always run uninterrupted.</tspan></text>
</svg></div></body></html>
